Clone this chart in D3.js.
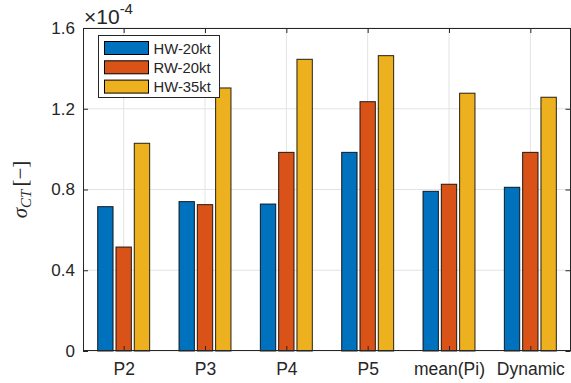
<!DOCTYPE html>
<html>
<head>
<meta charset="utf-8">
<script src="https://cdn.jsdelivr.net/npm/d3@7"></script>
<style>
  html, body { margin: 0; padding: 0; background: #fff; }
  svg { display: block; }
  text { font-family: "Liberation Sans", Arial, Helvetica, sans-serif; fill: #262626; }
</style>
</head>
<body>
<svg id="chart" width="571" height="383"></svg>
<script>
// Data (values in units of 1e-4)
const categories = ["P2", "P3", "P4", "P5", "mean(Pi)", "Dynamic"];
const seriesNames = ["HW-20kt", "RW-20kt", "HW-35kt"];
const hw20 = [0.715, 0.740, 0.728, 0.984, 0.791, 0.811];
const rw20 = [0.515, 0.725, 0.984, 1.235, 0.826, 0.984];
const hw35 = [1.029, 1.303, 1.445, 1.463, 1.277, 1.257];
const yTicks = [0, 0.4, 0.8, 1.2, 1.6];
const colors = ["#0072BD", "#D95319", "#EDB120"];

const seriesValues = [hw20, rw20, hw35];

const svg = d3.select("#chart");
const L = 83, R = 571, T = 28, B = 351;
const axisColor = "#262626";

// Scales
const x = d3.scaleLinear().domain([0.5, categories.length + 0.5]).range([L, R]);
const y = d3.scaleLinear().domain([0, 1.6]).range([B, T]);
const xSub = d3.scaleBand().domain(seriesNames).range([-27.45, 27.45])
  .paddingInner(0.16).paddingOuter(0.08);

// Grid lines
const grid = svg.append("g");
grid.selectAll("line.gy").data(yTicks).join("line")
  .attr("x1", L).attr("x2", R)
  .attr("y1", d => y(d)).attr("y2", d => y(d))
  .attr("stroke", "#e3e3e3").attr("stroke-width", 1);
grid.selectAll("line.gx").data(categories).join("line")
  .attr("x1", (d, i) => x(i + 1)).attr("x2", (d, i) => x(i + 1))
  .attr("y1", T).attr("y2", B)
  .attr("stroke", "#e3e3e3").attr("stroke-width", 1);

// Bars
const groups = svg.append("g").selectAll("g").data(seriesNames).join("g")
  .attr("fill", (d, s) => colors[s]);
groups.each(function(name, s) {
  d3.select(this).selectAll("rect").data(seriesValues[s]).join("rect")
    .attr("x", (v, i) => x(i + 1) + xSub(name))
    .attr("width", xSub.bandwidth())
    .attr("y", v => y(v))
    .attr("height", v => y(0) - y(v))
    .attr("stroke", "#000").attr("stroke-opacity", 0.85).attr("stroke-width", 1);
});

// Axes (box with inward ticks)
const tickSize = 5;
const axL = svg.append("g").attr("transform", `translate(${L},0)`)
  .call(d3.axisLeft(y).tickValues(yTicks).tickSize(-tickSize).tickPadding(8)
    .tickFormat(d => d === 0 ? "0" : d3.format(".1f")(d)));
const axR = svg.append("g").attr("transform", `translate(${R - 0.5},0)`)
  .call(d3.axisRight(y).tickValues(yTicks).tickSize(-tickSize).tickFormat(""));
const axB = svg.append("g").attr("transform", `translate(0,${B})`)
  .call(d3.axisBottom(x).tickValues(d3.range(1, categories.length + 1))
    .tickSize(-tickSize).tickPadding(12).tickFormat(d => categories[d - 1]));
const axT = svg.append("g").attr("transform", `translate(0,${T})`)
  .call(d3.axisTop(x).tickValues(d3.range(1, categories.length + 1))
    .tickSize(-tickSize).tickFormat(""));
[axL, axR, axB, axT].forEach(a => {
  a.attr("font-family", null).attr("font-size", null);
  a.select(".domain").remove();
  a.selectAll(".tick line").attr("stroke", axisColor);
  a.selectAll("text").attr("fill", axisColor);
});
axL.selectAll("text").style("font-size", "17px");
axB.selectAll("text").style("font-size", "17.5px");
svg.append("rect").attr("x", L + 0.5).attr("y", T + 0.5)
  .attr("width", R - L - 1).attr("height", B - T - 1)
  .attr("fill", "none").attr("stroke", axisColor).attr("stroke-width", 1);

// Exponent label
const ex = svg.append("text").attr("x", 84).attr("y", 24).style("font-size", "21px");
ex.append("tspan").text("×10");
ex.append("tspan").style("font-size", "15px").attr("dy", -10).text("-4");

// Y axis label
const yl = svg.append("text")
  .attr("transform", `translate(27,${(T + B) / 2}) rotate(-90)`)
  .attr("text-anchor", "middle")
  .style("font-family", "'Liberation Serif', 'DejaVu Serif', serif")
  .style("font-size", "21px");
yl.append("tspan").attr("font-style", "italic").text("σ");
yl.append("tspan").attr("font-style", "italic").style("font-size", "15px").attr("dy", 4).text("CT");
yl.append("tspan").attr("dy", -4).attr("dx", 3).text("[−]");

// Legend
const lg = svg.append("g").attr("transform", "translate(98.5,35.5)");
lg.append("rect").attr("width", 121).attr("height", 62)
  .attr("fill", "#fff").attr("stroke", "#262626").attr("stroke-width", 1);
const items = lg.selectAll("g").data(seriesNames).join("g")
  .attr("transform", (d, i) => `translate(6,${6 + i * 19.3})`);
items.append("rect").attr("width", 44).attr("height", 13)
  .attr("fill", (d, i) => colors[i]).attr("stroke", "#000").attr("stroke-width", 1);
items.append("text").attr("x", 49).attr("y", 12).style("font-size", "14.8px")
  .text(d => d);
</script>
</body>
</html>
